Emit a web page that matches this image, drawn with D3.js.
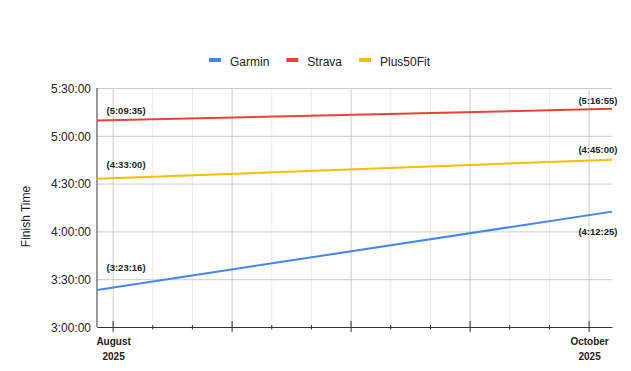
<!DOCTYPE html>
<html>
<head>
<meta charset="utf-8">
<style>
body { margin: 0; padding: 0; background: #fff; }
svg { display: block; font-family: "Liberation Sans", Arial, sans-serif; }
.grid line { stroke: #ccc; }
.grid .minor line, .minor line { stroke: #ebebeb; }
.grid path { display: none; }
.yaxis text { font-size: 12px; fill: #222; }
.yaxis path, .yaxis line { display: none; }
.xaxis path, .xaxis line { stroke: #333; }
.xlabel { font-size: 10px; font-weight: bold; fill: #222; }
.legend text { font-size: 12px; fill: #222; }
.note { font-size: 9.5px; font-weight: bold; fill: #222; }
</style>
<script src="https://cdnjs.cloudflare.com/ajax/libs/d3/7.8.5/d3.min.js"></script>
</head>
<body>
<svg id="chart" width="631" height="371"></svg>
<script>
// data
var dates = ["2025-07-30", "2025-10-04"]
var seriesNames = ["Garmin", "Strava", "Plus50Fit"]
var garminTimes = ["3:23:16", "4:12:25"]
var stravaTimes = ["5:09:35", "5:16:55"]
var plus50Times = ["4:33:00", "4:45:00"]
var yTicks = ["3:00:00", "3:30:00", "4:00:00", "4:30:00", "5:00:00", "5:30:00"]
var xLabelDates = ["2025-08-01", "2025-10-01"]
var xLabels = [["August", "2025"], ["October", "2025"]]

var colors = {Garmin: "#4285f4", Strava: "#ea4335", Plus50Fit: "#fbbc04"}
// where the value labels sit relative to their point (px)
var noteDy = {
  Garmin: {start: -19, end: 23.5},
  Strava: {start: -7, end: -5},
  Plus50Fit: {start: -10.5, end: -6.5}
}

function toSec(s) {
  var p = s.split(":").map(Number)
  return p[0] * 3600 + p[1] * 60 + p[2]
}
function fmt(sec) {
  var h = Math.floor(sec / 3600), m = Math.floor(sec % 3600 / 60), s = Math.round(sec % 60)
  return h + ":" + String(m).padStart(2, "0") + ":" + String(s).padStart(2, "0")
}
var parse = d3.timeParse("%Y-%m-%d")

var series = [
  {name: "Garmin", values: garminTimes},
  {name: "Strava", values: stravaTimes},
  {name: "Plus50Fit", values: plus50Times}
].map(function(s) {
  return {name: s.name, points: s.values.map(function(v, i) {
    return {date: parse(dates[i]), sec: toSec(v), label: v}
  })}
})

var pLeft = 97, pRight = 612, pTop = 88, pBottom = 327

var x = d3.scaleTime()
  .domain(d3.extent(dates, parse))
  .range([pLeft, pRight])
var y = d3.scaleLinear()
  .domain([toSec(yTicks[0]), toSec(yTicks[yTicks.length - 1])])
  .range([pBottom, pTop])

var first = parse(xLabelDates[0]), last = parse(xLabelDates[1])
var majorTicks = d3.range(5).map(function(i) { return new Date(+first + i * (last - first) / 4) })
var minorTicks = []
for (var i = 0; i < 4; i++) {
  [1, 2].forEach(function(k) {
    minorTicks.push(new Date(+majorTicks[i] + k * (majorTicks[i + 1] - majorTicks[i]) / 3))
  })
}

var svg = d3.select("#chart")

// gridlines
svg.append("g").attr("class", "grid minor")
  .attr("transform", "translate(0," + pBottom + ")")
  .call(d3.axisBottom(x).tickValues(minorTicks).tickSize(-(pBottom - pTop)).tickFormat(""))
svg.append("g").attr("class", "grid")
  .attr("transform", "translate(0," + pBottom + ")")
  .call(d3.axisBottom(x).tickValues(majorTicks).tickSize(-(pBottom - pTop)).tickFormat(""))
svg.append("g").attr("class", "grid")
  .attr("transform", "translate(" + pLeft + ",0)")
  .call(d3.axisLeft(y).tickValues(yTicks.map(toSec)).tickSize(-(pRight - pLeft)).tickFormat(""))

// y labels
svg.append("g").attr("class", "yaxis")
  .attr("transform", "translate(" + pLeft + ",0)")
  .call(d3.axisLeft(y).tickValues(yTicks.map(toSec)).tickSize(0).tickPadding(6).tickFormat(fmt))
  .selectAll("text").attr("dy", "0.36em")

// axis lines
svg.append("line").attr("x1", pLeft).attr("x2", pLeft).attr("y1", pTop).attr("y2", pBottom)
  .attr("stroke", "#333")

var xa = svg.append("g").attr("class", "xaxis")
  .attr("transform", "translate(0," + pBottom + ")")
xa.call(d3.axisBottom(x).tickValues(majorTicks).tickSizeOuter(0).tickFormat(""))
xa.selectAll(".tick line").attr("y1", -6).attr("y2", 5)
var xm = svg.append("g").attr("class", "xaxis")
  .attr("transform", "translate(0," + pBottom + ")")
xm.call(d3.axisBottom(x).tickValues(minorTicks).tickSizeOuter(0).tickFormat(""))
xm.selectAll(".tick line").attr("y1", -2).attr("y2", 2.5)
xm.select(".domain").remove()

// x labels (two lines, kept inside the chart)
xLabelDates.forEach(function(d, i) {
  var g = svg.append("g")
  var t = g.append("text").attr("class", "xlabel").attr("text-anchor", "middle")
  t.append("tspan").attr("x", 0).attr("y", 345).text(xLabels[i][0])
  t.append("tspan").attr("x", 0).attr("y", 360).text(xLabels[i][1])
  var w = t.node().getBBox().width
  var cx = Math.min(x(parse(d)) + 1, 614 - w / 2)
  g.attr("transform", "translate(" + cx + ",0)")
})

// y title
svg.append("text")
  .attr("transform", "translate(30,216.5) rotate(-90)")
  .attr("text-anchor", "middle")
  .style("font-size", "12px").style("fill", "#222")
  .text("Finish Time")

// lines
var line = d3.line().x(function(d) { return x(d.date) }).y(function(d) { return y(d.sec) })
svg.append("g").selectAll("path").data(series).join("path")
  .attr("d", function(d) { return line(d.points) })
  .attr("fill", "none")
  .attr("stroke", function(d) { return colors[d.name] })
  .attr("stroke-width", 2)

// value labels
series.forEach(function(s) {
  var p0 = s.points[0], p1 = s.points[s.points.length - 1]
  svg.append("text").attr("class", "note")
    .attr("x", x(p0.date) + 9.5).attr("y", y(p0.sec) + noteDy[s.name].start)
    .text("(" + p0.label + ")")
  svg.append("text").attr("class", "note").attr("text-anchor", "end")
    .attr("x", x(p1.date) + 5.5).attr("y", y(p1.sec) + noteDy[s.name].end)
    .text("(" + p1.label + ")")
})

// legend
var legend = svg.append("g").attr("class", "legend")
var lx = 0
seriesNames.forEach(function(n) {
  var g = legend.append("g").attr("transform", "translate(" + lx + ",0)")
  g.append("rect").attr("x", 0).attr("y", -4).attr("width", 12).attr("height", 4)
    .attr("fill", colors[n])
  var t = g.append("text").attr("x", 21).attr("y", 4).text(n)
  lx += 21 + t.node().getComputedTextLength() + 17
})
var lw = lx - 17
legend.attr("transform", "translate(" + (319.5 - lw / 2) + ",62)")
</script>
</body>
</html>
